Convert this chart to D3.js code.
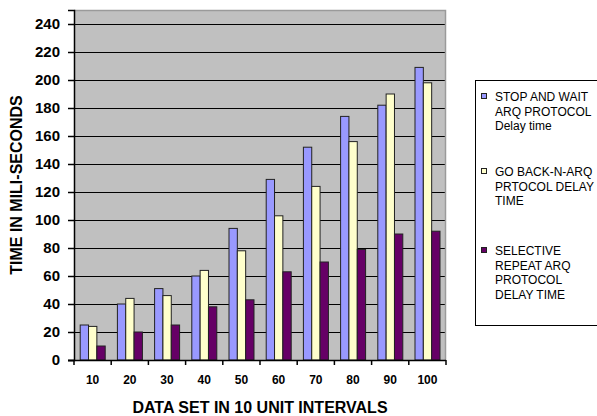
<!DOCTYPE html>
<html>
<head>
<meta charset="utf-8">
<script src="https://cdn.jsdelivr.net/npm/d3@7"></script>
<style>
  html, body { margin: 0; padding: 0; background: #fff; }
  svg { display: block; }
</style>
</head>
<body>
<svg id="chart" width="597" height="416"></svg>
<script>
const categories = ["10", "20", "30", "40", "50", "60", "70", "80", "90", "100"];
const stopAndWait = [25, 40, 51, 60, 94, 129, 152, 174, 182, 209];
const goBackN = [24, 44, 46, 64, 78, 103, 124, 156, 190, 198];
const selectiveRepeat = [10, 20, 25, 38, 43, 63, 70, 79, 90, 92];
const yTicks = [0, 20, 40, 60, 80, 100, 120, 140, 160, 180, 200, 220, 240];
const seriesNames = ["stop", "goback", "selective"];
const legendLines = [
  ["STOP AND WAIT", "ARQ PROTOCOL", "Delay time"],
  ["GO BACK-N-ARQ", "PRTOCOL DELAY", "TIME"],
  ["SELECTIVE", "REPEAT ARQ", "PROTOCOL", "DELAY TIME"]
];
const colors = ["#9999ff", "#ffffcc", "#660066"];
const seriesValues = [stopAndWait, goBackN, selectiveRepeat];

const svg = d3.select("#chart");
const pLeft = 74, pRight = 446, pTop = 10, pBottom = 360;

const x = d3.scaleBand().domain(categories).range([pLeft, pRight]).paddingInner(0).paddingOuter(0);
const xSub = d3.scaleBand().domain(seriesNames).range([6.2, 31.2]);
const y = d3.scaleLinear().domain([0, 250]).range([pBottom, pTop]);

// plot background
svg.append("rect").attr("x", pLeft).attr("y", pTop).attr("width", pRight - pLeft).attr("height", pBottom - pTop)
  .attr("fill", "#c0c0c0");

// gridlines
svg.append("g").selectAll("line").data(yTicks.filter(d => d > 0)).join("line")
  .attr("x1", pLeft).attr("x2", pRight)
  .attr("y1", d => Math.round(y(d)) + 0.5).attr("y2", d => Math.round(y(d)) + 0.5)
  .attr("stroke", "#000").attr("stroke-width", 1);

// frame top/right
svg.append("path").attr("d", `M${pLeft},${pTop + 0.5}H${pRight - 0.5}V${pBottom}`)
  .attr("fill", "none").attr("stroke", "#9a9a9a").attr("stroke-width", 1.5);

// bars
const rows = categories.map((c, i) => ({ cat: c, vals: seriesNames.map((s, j) => ({ s, j, v: seriesValues[j][i] })) }));
const groups = svg.append("g").selectAll("g").data(rows).join("g")
  .attr("transform", d => `translate(${x(d.cat)},0)`);
groups.selectAll("rect").data(d => d.vals).join("rect")
  .attr("x", d => xSub(d.s))
  .attr("y", d => y(d.v))
  .attr("width", xSub.bandwidth())
  .attr("height", d => y(0) - y(d.v))
  .attr("fill", d => colors[d.j])
  .attr("stroke", "#222").attr("stroke-width", 1);

// y axis
const yAxis = svg.append("g").attr("transform", `translate(${pLeft},0)`)
  .call(d3.axisLeft(y).tickValues(yTicks).tickSize(6).tickPadding(8).tickFormat(d3.format("d")));
yAxis.select(".domain").attr("stroke", "#000").attr("stroke-width", 1.5);
yAxis.selectAll(".tick line").attr("stroke", "#000").attr("stroke-width", 1.5);
yAxis.selectAll(".tick text").attr("font-family", "Liberation Sans, Arial, sans-serif")
  .attr("font-size", "15px").attr("font-weight", "bold").attr("fill", "#000");

// x axis
const xAxis = svg.append("g").attr("transform", `translate(0,${pBottom})`)
  .call(d3.axisBottom(x).tickSize(0).tickPadding(15));
xAxis.select(".domain").remove();
svg.append("line").attr("x1", pLeft - 6).attr("x2", pRight).attr("y1", pBottom + 0.5).attr("y2", pBottom + 0.5)
  .attr("stroke", "#000").attr("stroke-width", 1.5);
svg.append("g").selectAll("line").data(categories.concat(["__end"])).join("line")
  .attr("x1", (d, i) => pLeft + i * x.bandwidth()).attr("x2", (d, i) => pLeft + i * x.bandwidth())
  .attr("y1", pBottom).attr("y2", pBottom + 5)
  .attr("stroke", "#000").attr("stroke-width", 1.5);
xAxis.selectAll(".tick text").attr("font-family", "Liberation Sans, Arial, sans-serif")
  .attr("font-size", "12px").attr("font-weight", "bold").attr("fill", "#000");

// axis titles
svg.append("text").attr("transform", "translate(22,185) rotate(-90)")
  .attr("text-anchor", "middle")
  .attr("font-family", "Liberation Sans, Arial, sans-serif").attr("font-size", "16px").attr("font-weight", "bold")
  .text("TIME IN MILI-SECONDS");
svg.append("text").attr("x", 260).attr("y", 413)
  .attr("text-anchor", "middle")
  .attr("font-family", "Liberation Sans, Arial, sans-serif").attr("font-size", "16px").attr("font-weight", "bold")
  .text("DATA SET IN 10 UNIT INTERVALS");

// legend
svg.append("rect").attr("x", 475.5).attr("y", 80.5).attr("width", 130).attr("height", 245)
  .attr("fill", "#fff").attr("stroke", "#000").attr("stroke-width", 1);
const legendStarts = [101, 176, 255];
const lg = svg.append("g").selectAll("g").data(legendLines).join("g");
lg.append("rect").attr("x", 481.5).attr("y", (d, i) => legendStarts[i] - 7.5)
  .attr("width", 5).attr("height", 5)
  .attr("fill", (d, i) => colors[i]).attr("stroke", "#222").attr("stroke-width", 1);
lg.each(function(lines, i) {
  d3.select(this).selectAll("text").data(lines).join("text")
    .attr("x", 495).attr("y", (d, k) => legendStarts[i] + k * 14.5)
    .attr("font-family", "Liberation Sans, Arial, sans-serif").attr("font-size", "12px").attr("fill", "#000")
    .text(d => d);
});
</script>
</body>
</html>
